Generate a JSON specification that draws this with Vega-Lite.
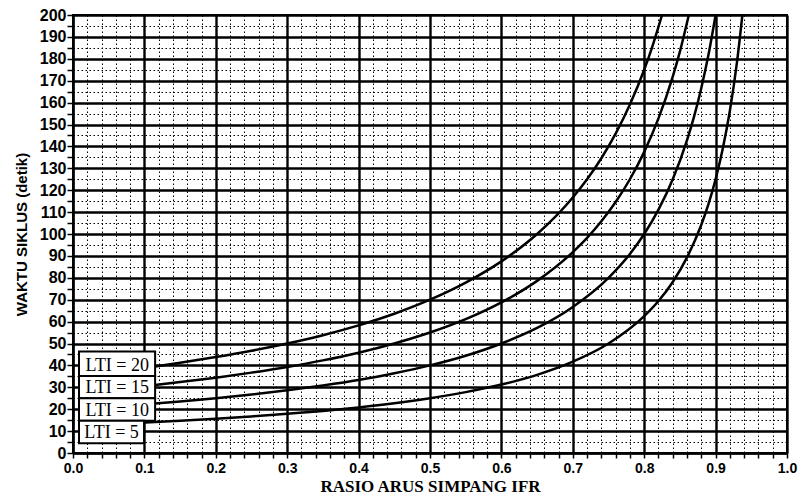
{
  "$schema": "https://vega.github.io/schema/vega-lite/v6.json",
  "width": 714,
  "height": 438,
  "autosize": {"type": "none"},
  "padding": {"left": 73, "top": 15, "right": 14, "bottom": 49},
  "background": "white",
  "config": {
    "view": {"stroke": "black", "strokeWidth": 2},
    "axis": {"labelFont": "Liberation Sans", "labelFontWeight": "bold", "labelColor": "black", "titleFontWeight": "bold", "titleColor": "black", "tickColor": "black", "domainColor": "black"}
  },
  "datasets": {
    "curves": [
      {"lti": "20", "ifr": 0.115, "c": 39.5}, {"lti": "20", "ifr": 0.15, "c": 41.2}, {"lti": "20", "ifr": 0.2, "c": 43.8}, {"lti": "20", "ifr": 0.25, "c": 46.7}, {"lti": "20", "ifr": 0.3, "c": 50.0}, {"lti": "20", "ifr": 0.35, "c": 53.8}, {"lti": "20", "ifr": 0.4, "c": 58.3}, {"lti": "20", "ifr": 0.45, "c": 63.6}, {"lti": "20", "ifr": 0.5, "c": 70.0}, {"lti": "20", "ifr": 0.55, "c": 77.8}, {"lti": "20", "ifr": 0.6, "c": 87.5}, {"lti": "20", "ifr": 0.65, "c": 100.0}, {"lti": "20", "ifr": 0.7, "c": 116.7}, {"lti": "20", "ifr": 0.72, "c": 125.0}, {"lti": "20", "ifr": 0.74, "c": 134.6}, {"lti": "20", "ifr": 0.76, "c": 145.8}, {"lti": "20", "ifr": 0.78, "c": 159.1}, {"lti": "20", "ifr": 0.8, "c": 175.0}, {"lti": "20", "ifr": 0.81, "c": 184.2}, {"lti": "20", "ifr": 0.825, "c": 200.0},
      {"lti": "15", "ifr": 0.115, "c": 31.1}, {"lti": "15", "ifr": 0.15, "c": 32.4}, {"lti": "15", "ifr": 0.2, "c": 34.4}, {"lti": "15", "ifr": 0.25, "c": 36.7}, {"lti": "15", "ifr": 0.3, "c": 39.3}, {"lti": "15", "ifr": 0.35, "c": 42.3}, {"lti": "15", "ifr": 0.4, "c": 45.8}, {"lti": "15", "ifr": 0.45, "c": 50.0}, {"lti": "15", "ifr": 0.5, "c": 55.0}, {"lti": "15", "ifr": 0.55, "c": 61.1}, {"lti": "15", "ifr": 0.6, "c": 68.75}, {"lti": "15", "ifr": 0.65, "c": 78.6}, {"lti": "15", "ifr": 0.7, "c": 91.7}, {"lti": "15", "ifr": 0.72, "c": 98.2}, {"lti": "15", "ifr": 0.74, "c": 105.8}, {"lti": "15", "ifr": 0.76, "c": 114.6}, {"lti": "15", "ifr": 0.78, "c": 125.0}, {"lti": "15", "ifr": 0.8, "c": 137.5}, {"lti": "15", "ifr": 0.82, "c": 152.8}, {"lti": "15", "ifr": 0.84, "c": 171.9}, {"lti": "15", "ifr": 0.85, "c": 183.3}, {"lti": "15", "ifr": 0.8625, "c": 200.0},
      {"lti": "10", "ifr": 0.115, "c": 22.6}, {"lti": "10", "ifr": 0.15, "c": 23.5}, {"lti": "10", "ifr": 0.2, "c": 25.0}, {"lti": "10", "ifr": 0.25, "c": 26.7}, {"lti": "10", "ifr": 0.3, "c": 28.6}, {"lti": "10", "ifr": 0.35, "c": 30.8}, {"lti": "10", "ifr": 0.4, "c": 33.3}, {"lti": "10", "ifr": 0.45, "c": 36.4}, {"lti": "10", "ifr": 0.5, "c": 40.0}, {"lti": "10", "ifr": 0.55, "c": 44.4}, {"lti": "10", "ifr": 0.6, "c": 50.0}, {"lti": "10", "ifr": 0.65, "c": 57.1}, {"lti": "10", "ifr": 0.7, "c": 66.7}, {"lti": "10", "ifr": 0.75, "c": 80.0}, {"lti": "10", "ifr": 0.78, "c": 90.9}, {"lti": "10", "ifr": 0.8, "c": 100.0}, {"lti": "10", "ifr": 0.82, "c": 111.1}, {"lti": "10", "ifr": 0.84, "c": 125.0}, {"lti": "10", "ifr": 0.86, "c": 142.9}, {"lti": "10", "ifr": 0.87, "c": 153.8}, {"lti": "10", "ifr": 0.88, "c": 166.7}, {"lti": "10", "ifr": 0.89, "c": 181.8}, {"lti": "10", "ifr": 0.9, "c": 200.0},
      {"lti": "5", "ifr": 0.1, "c": 13.9}, {"lti": "5", "ifr": 0.15, "c": 14.7}, {"lti": "5", "ifr": 0.2, "c": 15.6}, {"lti": "5", "ifr": 0.25, "c": 16.7}, {"lti": "5", "ifr": 0.3, "c": 17.9}, {"lti": "5", "ifr": 0.35, "c": 19.2}, {"lti": "5", "ifr": 0.4, "c": 20.8}, {"lti": "5", "ifr": 0.45, "c": 22.7}, {"lti": "5", "ifr": 0.5, "c": 25.0}, {"lti": "5", "ifr": 0.55, "c": 27.8}, {"lti": "5", "ifr": 0.6, "c": 31.25}, {"lti": "5", "ifr": 0.65, "c": 35.7}, {"lti": "5", "ifr": 0.7, "c": 41.7}, {"lti": "5", "ifr": 0.75, "c": 50.0}, {"lti": "5", "ifr": 0.8, "c": 62.5}, {"lti": "5", "ifr": 0.82, "c": 69.4}, {"lti": "5", "ifr": 0.84, "c": 78.1}, {"lti": "5", "ifr": 0.86, "c": 89.3}, {"lti": "5", "ifr": 0.88, "c": 104.2}, {"lti": "5", "ifr": 0.89, "c": 113.6}, {"lti": "5", "ifr": 0.9, "c": 125.0}, {"lti": "5", "ifr": 0.91, "c": 138.9}, {"lti": "5", "ifr": 0.92, "c": 156.25}, {"lti": "5", "ifr": 0.93, "c": 178.6}, {"lti": "5", "ifr": 0.9375, "c": 200.0}
    ],
    "boxes": [
      {"ifr": 0.0084, "ifr2": 0.115, "c": 35.2, "c2": 46.3},
      {"ifr": 0.0084, "ifr2": 0.115, "c": 25.0, "c2": 35.2},
      {"ifr": 0.0084, "ifr2": 0.115, "c": 14.7, "c2": 25.0},
      {"ifr": 0.0084, "ifr2": 0.0995, "c": 4.4, "c2": 14.7}
    ],
    "labels": [
      {"label": "LTI = 20", "ifr": 0.062, "c": 40.3},
      {"label": "LTI = 15", "ifr": 0.062, "c": 30.0},
      {"label": "LTI = 10", "ifr": 0.062, "c": 19.8},
      {"label": "LTI = 5", "ifr": 0.054, "c": 9.6}
    ]
  },
  "encoding": {
    "x": {"field": "ifr", "type": "quantitative", "scale": {"domain": [0, 1], "nice": false, "zero": false},
      "axis": {
        "title": "RASIO ARUS SIMPANG IFR", "titleFont": "Liberation Serif", "titleFontSize": 17, "titlePadding": 3,
        "values": [0,0.02,0.04,0.06,0.08,0.1,0.12,0.14,0.16,0.18,0.2,0.22,0.24,0.26,0.28,0.3,0.32,0.34,0.36,0.38,0.4,0.42,0.44,0.46,0.48,0.5,0.52,0.54,0.56,0.58,0.6,0.62,0.64,0.66,0.68,0.7,0.72,0.74,0.76,0.78,0.8,0.82,0.84,0.86,0.88,0.9,0.92,0.94,0.96,0.98,1.0],
        "labelExpr": "abs(datum.value*10-round(datum.value*10))<0.001 ? format(datum.value, '.1f') : ''",
        "labelFontSize": 14, "labelPadding": 3, "labelFlush": false, "labelOverlap": false,
        "tickSize": 5, "tickWidth": 1.5, "domain": true, "domainWidth": 2,
        "grid": true, "gridColor": "black",
        "gridWidth": {"condition": {"test": "abs(datum.value*10-round(datum.value*10))<0.001", "value": 2.4}, "value": 1},
        "gridDash": {"condition": {"test": "abs(datum.value*10-round(datum.value*10))<0.001", "value": []}, "value": [1.5, 2.5]},
        "gridOpacity": 1
      }},
    "y": {"field": "c", "type": "quantitative", "scale": {"domain": [0, 200], "nice": false},
      "axis": {
        "title": "WAKTU SIKLUS (detik)", "titleFont": "Liberation Sans", "titleFontSize": 15, "titlePadding": 10,
        "values": [0,5,10,15,20,25,30,35,40,45,50,55,60,65,70,75,80,85,90,95,100,105,110,115,120,125,130,135,140,145,150,155,160,165,170,175,180,185,190,195,200],
        "labelExpr": "datum.value % 10 == 0 ? datum.value : ''",
        "labelFontSize": 16, "labelPadding": 1, "labelOverlap": false, "labelFlush": false,
        "tickSize": 6, "tickWidth": 1.5, "domain": true, "domainWidth": 2,
        "grid": true, "gridColor": "black",
        "gridWidth": {"condition": {"test": "datum.value % 10 == 0", "value": 2.4}, "value": 1},
        "gridDash": {"condition": {"test": "datum.value % 10 == 0", "value": []}, "value": [1.5, 2.5]},
        "gridOpacity": 1
      }}
  },
  "layer": [
    {
      "data": {"name": "curves"},
      "mark": {"type": "line", "color": "black", "strokeWidth": 2.5, "interpolate": "monotone", "clip": true},
      "encoding": {"detail": {"field": "lti", "type": "nominal"}}
    },
    {
      "data": {"name": "boxes"},
      "mark": {"type": "rect", "fill": "white", "stroke": "black", "strokeWidth": 2},
      "encoding": {"x2": {"field": "ifr2"}, "y2": {"field": "c2"}}
    },
    {
      "data": {"name": "labels"},
      "mark": {"type": "text", "font": "Liberation Serif", "fontSize": 18, "color": "black", "align": "center", "baseline": "middle", "dy": 1},
      "encoding": {"text": {"field": "label"}}
    }
  ]
}
